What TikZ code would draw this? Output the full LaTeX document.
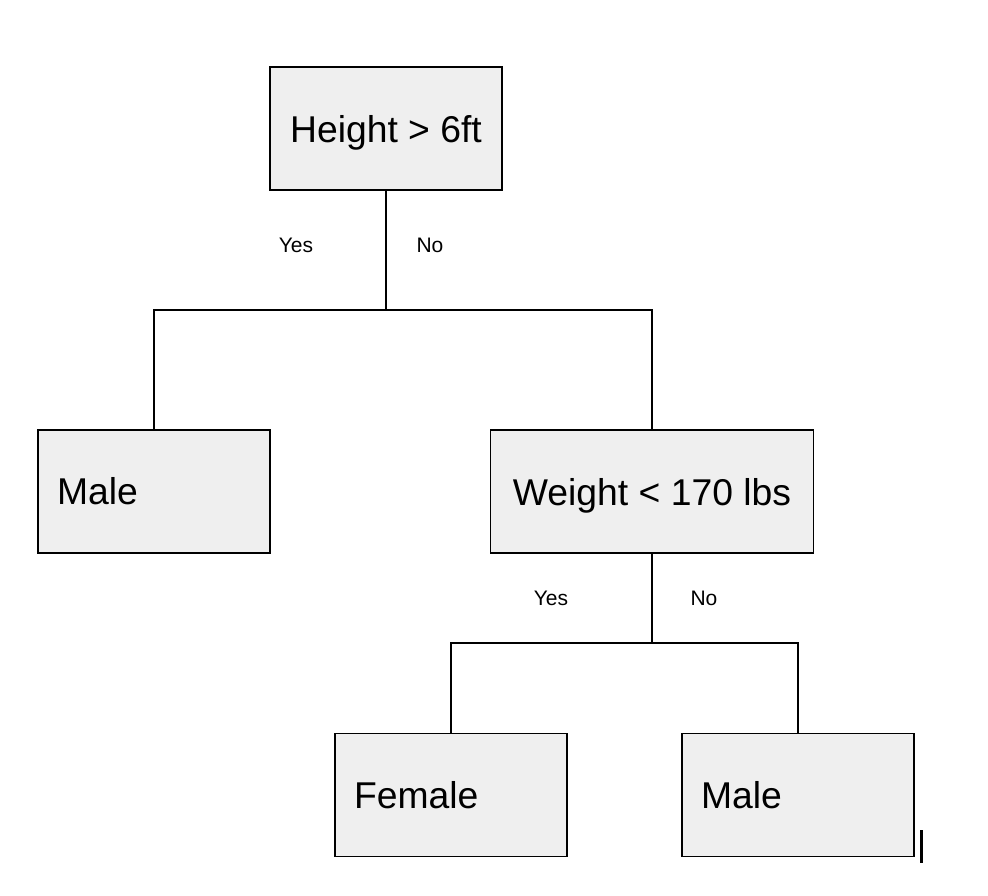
\documentclass[tikz,border=0pt]{standalone}
\usepackage{fontspec}
\setmainfont{Liberation Sans}
\definecolor{boxgray}{HTML}{EFEFEF}
\begin{document}
\begin{tikzpicture}[x=1pt,y=-1pt]
\tikzset{box/.style={draw=black,line width=1.4pt,fill=boxgray,minimum width=232pt,minimum height=123pt,inner sep=0pt,font=\fontsize{37.3}{44}\selectfont},
cbox/.style={box,text depth=0pt},
lbox/.style={box,text width=194pt,inner xsep=19pt,align=left},
edge/.style={line width=1.4pt},
lab/.style={inner sep=0pt,font=\fontsize{21}{25}\selectfont}}
\useasboundingbox (0,0) rectangle (988,896);
% decision nodes
\node [cbox] (height) at (386,128.5) {Height > 6ft};
\node [cbox,minimum width=323pt] (weight) at (652,491.5) {Weight < 170 lbs};
% leaves
\node [lbox] (male1) at (154,491.5) {Male};
\node [lbox] (female) at (451,795) {Female};
\node [lbox] (male2) at (798,795) {Male};
% splits
\coordinate (hsplit) at (386,310);
\coordinate (wsplit) at (652,643);
\draw [edge] (height.south) -- (hsplit);
\draw [edge] (male1.north) |- (hsplit) -| (weight.north);
\draw [edge] (weight.south) -- (wsplit);
\draw [edge] (female.north) |- (wsplit) -| (male2.north);
% branch labels
\node [lab] (yes1) at (296,245) {Yes};
\node [lab] (no1) at (430,245) {No};
\node [lab] (yes2) at (551,598) {Yes};
\node [lab] (no2) at (704,598) {No};
\draw [line width=3pt] (921,830) -- (921,863);
\end{tikzpicture}
\end{document}
